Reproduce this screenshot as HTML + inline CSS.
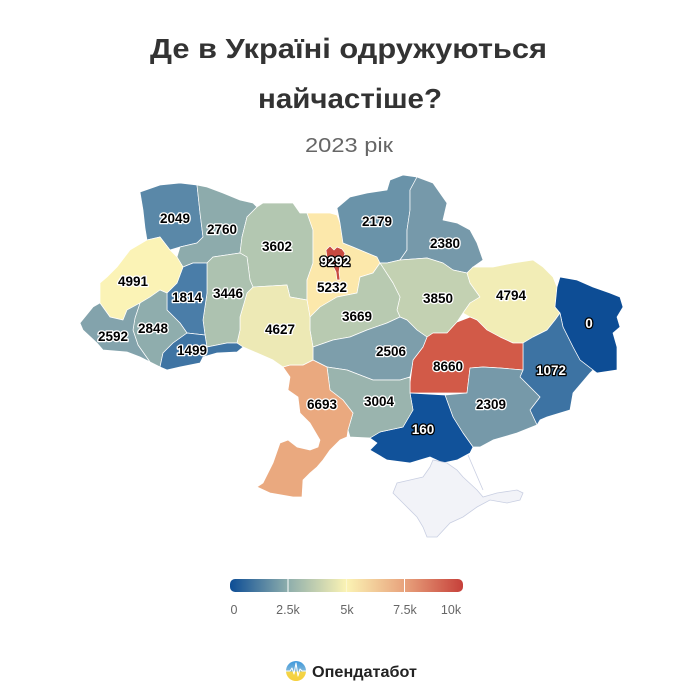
<!DOCTYPE html>
<html><head><meta charset="utf-8"><style>
html,body{margin:0;padding:0;background:#fff;}
svg{display:block;}
.t{font-family:"Liberation Sans","DejaVu Sans",sans-serif;}
.lb{font-family:"Liberation Sans",sans-serif;font-size:13.5px;font-weight:bold;text-anchor:middle;paint-order:stroke;stroke-linejoin:round;}
.dk{fill:#000;stroke:#fff;stroke-width:2.6px;}
.lt{fill:#fff;stroke:#000;stroke-width:2.6px;}
</style></head><body>
<svg width="700" height="700" viewBox="0 0 700 700" xmlns="http://www.w3.org/2000/svg">
<rect width="700" height="700" fill="#fff"/>
<text class="t" x="150" y="58" font-size="28" font-weight="bold" fill="#333" textLength="397" lengthAdjust="spacingAndGlyphs">Де в Україні одружуються</text>
<text class="t" x="258" y="108" font-size="28" font-weight="bold" fill="#333" textLength="184" lengthAdjust="spacingAndGlyphs">найчастіше?</text>
<text class="t" x="305" y="152" font-size="20" fill="#666" textLength="88" lengthAdjust="spacingAndGlyphs">2023 рік</text>

<g stroke="#ffffff" stroke-width="0.7" stroke-linejoin="round">
<polygon fill="#5a88a8" points="140,192 160,185 180,183 197,185 200,213 203,237 197,243 180,247 170,250 160,237 147,240 145,228 143,210"/>
<polygon fill="#8dabac" points="197,185 207,187 223,193 240,200 253,203 257,207 247,217 242,237 240,253 213,257 207,263 193,263 183,267 177,257 180,247 197,243 203,237 200,213"/>
<polygon fill="#b3c7b1" points="257,207 263,203 293,203 300,213 307,213 313,230 313,263 307,280 307,300 290,297 287,285 253,287 250,280 247,257 240,253 242,237 247,217"/>
<polygon fill="#fce8ab" points="307,213 330,213 337,215 340,223 343,243 353,247 377,257 380,263 373,273 360,277 357,293 337,297 320,307 310,317 307,300 307,280 313,263 313,230"/>
<polygon fill="#6a93a9" points="337,208 350,197 367,193 387,190 390,180 403,175 417,177 410,190 410,210 407,230 407,250 400,260 387,263 380,263 377,257 353,247 343,243 340,223"/>
<polygon fill="#7699aa" points="417,177 433,183 440,193 447,203 443,220 457,223 470,230 477,243 483,260 473,267 467,273 453,270 443,263 427,258 400,260 407,250 407,230 410,210 410,190"/>
<polygon fill="#c3d1b2" points="380,263 387,263 400,260 427,258 443,263 453,270 467,273 470,283 480,297 470,303 463,313 457,322 447,333 433,333 427,337 417,330 407,320 400,317 397,310 400,297 393,283"/>
<polygon fill="#f2edb6" points="467,273 473,267 493,267 513,263 533,260 543,267 553,277 557,287 555,307 560,313 555,320 547,330 533,337 523,343 513,343 500,337 487,330 477,320 470,317 463,313 470,303 480,297 470,283"/>
<polygon fill="#0d4d95" points="560,277 577,280 593,287 610,293 620,297 623,307 617,317 620,327 613,333 617,347 617,370 597,373 593,370 580,360 573,347 563,327 560,313 555,307 557,287"/>
<polygon fill="#3d73a3" points="560,313 563,327 573,347 580,360 593,370 590,373 573,393 570,410 547,417 540,420 537,425 530,410 540,397 533,390 520,377 523,370 523,343 533,337 547,330 555,320"/>
<polygon fill="#d25a48" points="410,393 410,383 413,360 423,347 427,337 433,333 447,333 457,322 470,317 477,320 487,330 500,337 513,343 523,343 523,370 500,368 483,367 470,368 467,393"/>
<polygon fill="#7699a9" points="445,395 467,393 470,368 483,367 500,368 523,370 520,377 533,390 540,397 530,410 537,425 517,433 493,440 480,447 473,447 463,433 453,417"/>
<polygon fill="#11529a" points="410,393 445,395 453,417 463,433 473,447 470,453 457,460 443,463 430,457 410,463 387,460 370,450 377,443 370,438 380,432 403,427 413,410"/>
<polygon fill="#b8cab1" points="310,317 320,307 337,297 357,293 360,277 373,273 380,263 393,283 400,297 397,310 400,317 387,323 367,330 350,337 333,340 313,347 310,330"/>
<polygon fill="#7d9eab" points="313,347 333,340 350,337 367,330 387,323 400,317 407,320 417,330 427,337 423,347 413,360 412,367 410,377 400,380 373,380 347,370 327,367 313,360"/>
<polygon fill="#9ab4ae" points="327,367 347,370 373,380 400,380 410,377 410,393 413,410 403,427 380,432 370,438 350,437 348,430 353,413 343,400 330,390"/>
<polygon fill="#eaa97f" points="283,367 290,365 303,365 313,360 327,367 330,390 343,400 353,413 348,430 347,437 340,440 330,450 323,460 317,467 310,473 303,480 302,497 293,497 270,493 257,487 263,483 273,463 280,443 288,440 297,447 310,450 318,447 320,440 310,423 300,413 298,397 288,390 290,377"/>
<polygon fill="#ede9b5" points="240,317 247,293 253,287 287,285 290,297 307,300 310,317 310,330 313,347 313,360 303,365 290,365 283,367 273,360 257,353 243,347 237,343 240,330"/>
<polygon fill="#adc2b0" points="207,263 213,257 240,253 247,257 250,280 253,287 247,293 240,317 240,330 237,343 227,343 207,347 205,335 203,320 207,293"/>
<polygon fill="#4a7da8" points="183,267 193,263 207,263 207,293 203,320 205,335 187,333 180,323 167,310 167,293 177,283"/>
<polygon fill="#fbf3b6" points="100,283 107,277 117,267 130,250 147,240 160,237 170,250 177,257 183,267 177,283 167,293 160,290 150,297 140,303 127,310 123,320 110,317 100,303"/>
<polygon fill="#8fadad" points="140,303 150,297 160,290 167,293 167,310 180,323 187,333 173,343 163,353 160,367 150,362 138,345 133,330 135,318"/>
<polygon fill="#83a3ac" points="80,323 93,307 100,303 110,317 123,320 127,310 140,303 135,318 133,330 138,345 150,362 140,357 127,352 103,350 97,343 83,330"/>
<polygon fill="#3f74a3" points="173,343 187,333 205,335 207,347 227,343 237,343 243,347 237,352 217,353 203,357 200,363 180,367 167,370 160,367 163,353"/>
<polygon fill="#c84a40" points="326,250 330,246 334,250 337,247 342,249 345,253 343,259 340,265 339,272 340,280 337,280 336,272 333,266 329,263 327,257"/>
</g>
<polygon fill="#f2f3f8" stroke="#c9cfe2" stroke-width="0.8" points="393,493 397,483 410,480 423,477 430,467 433,460 447,463 457,470 463,477 477,490 483,497 497,493 517,490 523,493 520,500 507,503 490,500 477,507 463,517 450,523 437,537 427,537 423,527 417,517 403,503"/>
<line x1="468" y1="455" x2="483" y2="490" stroke="#c9cfe2" stroke-width="0.8"/>

<g>
<text class="lb dk" x="175" y="223">2049</text>
<text class="lb dk" x="222" y="234">2760</text>
<text class="lb dk" x="277" y="251">3602</text>
<text class="lb dk" x="133" y="286">4991</text>
<text class="lb dk" x="187" y="302">1814</text>
<text class="lb dk" x="228" y="298">3446</text>
<text class="lb dk" x="113" y="341">2592</text>
<text class="lb dk" x="153" y="333">2848</text>
<text class="lb dk" x="192" y="355">1499</text>
<text class="lb dk" x="280" y="334">4627</text>
<text class="lb lt" x="335" y="266">9292</text>
<text class="lb dk" x="332" y="292">5232</text>
<text class="lb dk" x="377" y="226">2179</text>
<text class="lb dk" x="445" y="248">2380</text>
<text class="lb dk" x="438" y="303">3850</text>
<text class="lb dk" x="511" y="300">4794</text>
<text class="lb dk" x="357" y="321">3669</text>
<text class="lb lt" x="589" y="328">0</text>
<text class="lb dk" x="391" y="356">2506</text>
<text class="lb dk" x="448" y="371">8660</text>
<text class="lb lt" x="551" y="375">1072</text>
<text class="lb dk" x="322" y="409">6693</text>
<text class="lb dk" x="379" y="406">3004</text>
<text class="lb dk" x="491" y="409">2309</text>
<text class="lb lt" x="423" y="434">160</text>
</g>

<defs>
<linearGradient id="lg" x1="0" x2="1" y1="0" y2="0">
<stop offset="0" stop-color="#0d4d95"/>
<stop offset="0.25" stop-color="#8eaeac"/>
<stop offset="0.5" stop-color="#fbf3b4"/>
<stop offset="0.75" stop-color="#e8a27c"/>
<stop offset="1" stop-color="#c6403a"/>
</linearGradient>
<linearGradient id="logo" x1="0" x2="0" y1="0" y2="1">
<stop offset="0" stop-color="#3b97dd"/>
<stop offset="0.5" stop-color="#7fb6d8"/>
<stop offset="0.55" stop-color="#f3d548"/>
<stop offset="1" stop-color="#f6cf3a"/>
</linearGradient>
</defs>
<rect x="230" y="579" width="233" height="13" rx="5" fill="url(#lg)"/>
<line x1="288" y1="579" x2="288" y2="592" stroke="#fff" stroke-width="1"/>
<line x1="346.5" y1="579" x2="346.5" y2="592" stroke="#fff" stroke-width="0.6" stroke-opacity="0.6"/>
<line x1="404.5" y1="579" x2="404.5" y2="592" stroke="#fff" stroke-width="1"/>
<g class="t" font-size="12.5" fill="#666" text-anchor="middle">
<text x="234" y="614">0</text>
<text x="288" y="614">2.5k</text>
<text x="347" y="614">5k</text>
<text x="405" y="614">7.5k</text>
<text x="451" y="614">10k</text>
</g>

<circle cx="296" cy="671" r="10" fill="url(#logo)"/>
<polyline points="286,671 290,671 292,668 294,674 296,663 298,676 300,669 302,671 306,671" fill="none" stroke="#fff" stroke-width="1" stroke-linejoin="round"/>
<text class="t" x="312" y="677" font-size="16" font-weight="bold" fill="#222" textLength="105" lengthAdjust="spacingAndGlyphs">Опендатабот</text>
</svg>
</body></html>
